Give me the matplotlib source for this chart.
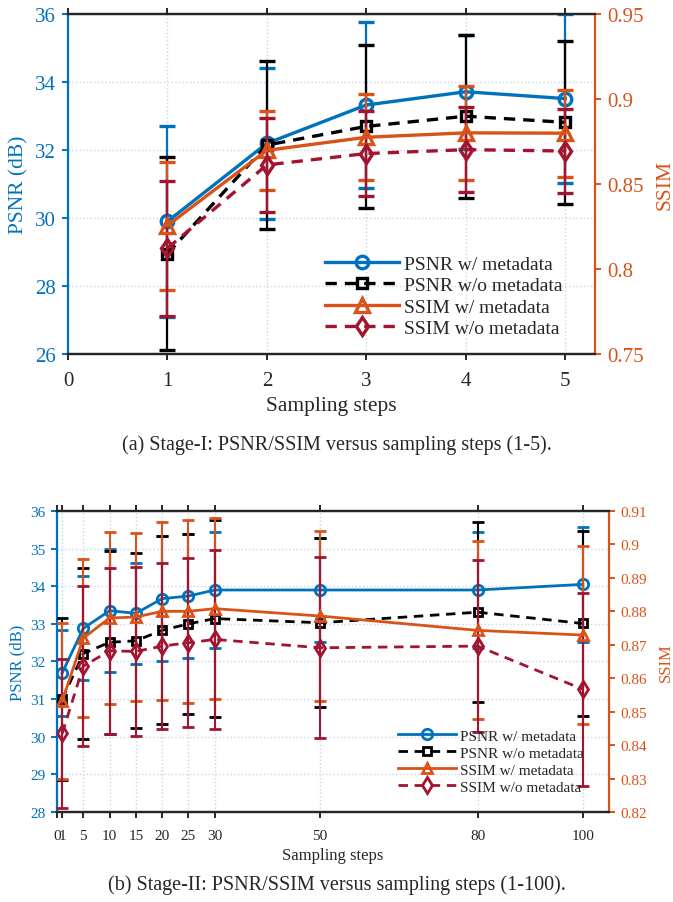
import matplotlib
matplotlib.use("Agg")
import matplotlib.pyplot as plt

plt.rcParams['font.family'] = ['Liberation Serif', 'DejaVu Serif']
plt.rcParams['mathtext.fontset'] = 'stix'

# ---------------- data: Stage-I ----------------
steps_a = [1, 2, 3, 4, 5]
psnr_w_a = [29.9, 32.2, 33.33, 33.72, 33.52]
psnr_w_err_a = [2.8, 2.22, 2.43, 1.68, 2.48]
psnr_wo_a = [28.95, 32.15, 32.7, 33.0, 32.82]
psnr_wo_err_a = [2.85, 2.47, 2.4, 2.4, 2.4]
ssim_w_a = [0.8256, 0.8699, 0.8776, 0.8802, 0.8800]
ssim_w_err_a = [0.0377, 0.0234, 0.0253, 0.0277, 0.0257]
ssim_wo_a = [0.8122, 0.8613, 0.868, 0.8703, 0.8695]
ssim_wo_err_a = [0.0398, 0.0279, 0.0248, 0.025, 0.025]
xticks_a = [0, 1, 2, 3, 4, 5]
yticks_a = [26, 28, 30, 32, 34, 36]
y2ticks_a = [0.75, 0.8, 0.85, 0.9, 0.95]

# ---------------- data: Stage-II ----------------
steps_b = [1, 5, 10, 15, 20, 25, 30, 50, 80, 100]
psnr_w_b = [31.7, 32.88, 33.35, 33.28, 33.67, 33.74, 33.9, 33.9, 33.9, 34.05]
psnr_w_err_b = [1.15, 1.38, 1.63, 1.34, 1.67, 1.65, 1.53, 1.39, 1.53, 1.52]
psnr_wo_b = [31.0, 32.21, 32.51, 32.55, 32.83, 33.0, 33.14, 33.03, 33.31, 33.01]
psnr_wo_err_b = [2.15, 2.27, 2.43, 2.33, 2.5, 2.4, 2.62, 2.25, 2.4, 2.47]
ssim_w_b = [0.8532, 0.872, 0.878, 0.8783, 0.88, 0.88, 0.8808, 0.8786, 0.8743, 0.8729]
ssim_w_err_b = [0.0232, 0.0237, 0.0258, 0.0252, 0.0266, 0.0273, 0.0271, 0.0255, 0.0266, 0.0266]
ssim_wo_b = [0.8435, 0.8636, 0.8682, 0.868, 0.8696, 0.8706, 0.8716, 0.8691, 0.8696, 0.8567]
ssim_wo_err_b = [0.0222, 0.024, 0.0248, 0.0254, 0.0248, 0.0252, 0.0267, 0.027, 0.0256, 0.0288]
xticks_b = [0, 1, 5, 10, 15, 20, 25, 30, 50, 80, 100]
xticklabels_b = ['0', '1', '5', '10', '15', '20', '25', '30', '50', '80', '100']
yticks_b = [28, 29, 30, 31, 32, 33, 34, 35, 36]
y2ticks_b = [0.82, 0.83, 0.84, 0.85, 0.86, 0.87, 0.88, 0.89, 0.9, 0.91]

labels = ['PSNR w/ metadata', 'PSNR w/o metadata', 'SSIM w/ metadata', 'SSIM w/o metadata']

BLUE = '#0072BD'
ORANGE = '#D95319'
RED = '#A2142F'
BLACK = '#000000'
GRID = '#c5d6e6'
TXT = '#262626'

fig = plt.figure(figsize=(6.73, 9.03), dpi=100)


def panel(rect, x, series, xlim, ylim, y2lim, xticks, xticklabels, yticks, y2ticks,
          fs_tick, fs_label, fs_leg, lw, elw, ms, cap, leg_anchor, leg_space, xpad, xlabpad, ypad):
    ax = fig.add_axes(rect)
    ax2 = ax.twinx()
    (pw, pwe), (pwo, pwoe), (sw, swe), (swo, swoe) = series
    dash = (3.4, 2.4)
    h = []
    c = ax.errorbar(x, pw, yerr=pwe, color=BLUE, lw=lw, elinewidth=elw, capsize=cap, capthick=elw,
                    marker='o', ms=ms, mfc='none', mew=lw, zorder=3)
    h.append(c[0])
    c = ax.errorbar(x, pwo, yerr=pwoe, color=BLACK, lw=lw, elinewidth=elw, capsize=cap, capthick=elw,
                    marker='s', ms=ms * 0.85, mfc='none', mew=lw, ls='--', dashes=dash, zorder=3)
    h.append(c[0])
    c = ax2.errorbar(x, sw, yerr=swe, color=ORANGE, lw=lw, elinewidth=elw, capsize=cap, capthick=elw,
                     marker='^', ms=ms * 1.05, mfc='none', mew=lw, zorder=3)
    h.append(c[0])
    c = ax2.errorbar(x, swo, yerr=swoe, color=RED, lw=lw, elinewidth=elw, capsize=cap, capthick=elw,
                     marker='d', ms=ms * 1.05, mfc='none', mew=lw, ls='--', dashes=dash, zorder=3)
    h.append(c[0])

    ax.set_xlim(*xlim)
    ax.set_ylim(*ylim)
    ax2.set_ylim(*y2lim)
    ax.set_xticks(xticks)
    ax.set_xticklabels(xticklabels)
    ax.set_yticks(yticks)
    ax.set_yticklabels([f'{v:g}' for v in yticks])
    ax2.set_yticks(y2ticks)
    ax2.set_yticklabels([f'{v:g}' for v in y2ticks])

    ax.grid(True, ls=':', color=GRID, lw=1.0)
    ax.set_axisbelow(True)

    for a in (ax, ax2):
        a.spines['top'].set_color(TXT)
        a.spines['bottom'].set_color(TXT)
        a.spines['top'].set_linewidth(1.6)
        a.spines['bottom'].set_linewidth(1.6)
    ax.spines['left'].set_color(BLUE)
    ax.spines['left'].set_linewidth(1.6)
    ax2.spines['right'].set_color(ORANGE)
    ax2.spines['right'].set_linewidth(1.6)
    ax2.spines['left'].set_visible(False)
    ax.spines['right'].set_visible(False)

    ax.tick_params(axis='x', direction='out', top=True, length=4, width=1.4, color=TXT,
                   labelsize=fs_tick, labelcolor=TXT, pad=xpad)
    ax.tick_params(axis='y', direction='out', length=4, width=1.4, color=BLUE,
                   labelsize=fs_tick, labelcolor=BLUE, pad=ypad)
    ax2.tick_params(axis='y', direction='out', length=4, width=1.4, color=ORANGE,
                    labelsize=fs_tick, labelcolor=ORANGE, pad=ypad)

    ax.set_xlabel('Sampling steps', fontsize=fs_label, color=TXT, labelpad=xlabpad)
    ax.set_ylabel('PSNR (dB)', fontsize=fs_label, color=BLUE, labelpad=4)
    ax2.set_ylabel('SSIM', fontsize=fs_label, color=ORANGE, labelpad=8)

    leg = ax2.legend(h, labels, loc='lower right', bbox_to_anchor=leg_anchor, frameon=False,
                     fontsize=fs_leg, handlelength=3.8, handletextpad=0.25, labelspacing=leg_space,
                     borderaxespad=0.2, numpoints=1)
    for t in leg.get_texts():
        t.set_color(TXT)
    return ax, ax2


panel([0.101, 0.607, 0.783, 0.376], steps_a,
      [(psnr_w_a, psnr_w_err_a), (psnr_wo_a, psnr_wo_err_a),
       (ssim_w_a, ssim_w_err_a), (ssim_wo_a, ssim_wo_err_a)],
      (0, 5.3), (26, 36), (0.75, 0.95), xticks_a, [str(v) for v in xticks_a],
      yticks_a, y2ticks_a, fs_tick=15, fs_label=15.5, fs_leg=14, lw=2.4, elw=1.6, ms=9, cap=5.5,
      leg_anchor=(0.96, 0.015), leg_space=0.2, xpad=8, xlabpad=5, ypad=5)

panel([0.0847, 0.0997, 0.8203, 0.3333], steps_b,
      [(psnr_w_b, psnr_w_err_b), (psnr_wo_b, psnr_wo_err_b),
       (ssim_w_b, ssim_w_err_b), (ssim_wo_b, ssim_wo_err_b)],
      (0, 105), (28, 36), (0.82, 0.91), xticks_b, xticklabels_b,
      yticks_b, y2ticks_b, fs_tick=11, fs_label=12, fs_leg=11, lw=2.0, elw=1.5, ms=7.5, cap=4,
      leg_anchor=(0.97, 0.03), leg_space=0.22, xpad=8, xlabpad=4, ypad=4)

fig.text(0.5, 1 - 445 / 903, '(a) Stage-I: PSNR/SSIM versus sampling steps (1-5).',
         ha='center', va='center', fontsize=14.5, color=TXT)
fig.text(0.5, 1 - 885 / 903, '(b) Stage-II: PSNR/SSIM versus sampling steps (1-100).',
         ha='center', va='center', fontsize=14.5, color=TXT)

fig.savefig('out.png', dpi=100)
